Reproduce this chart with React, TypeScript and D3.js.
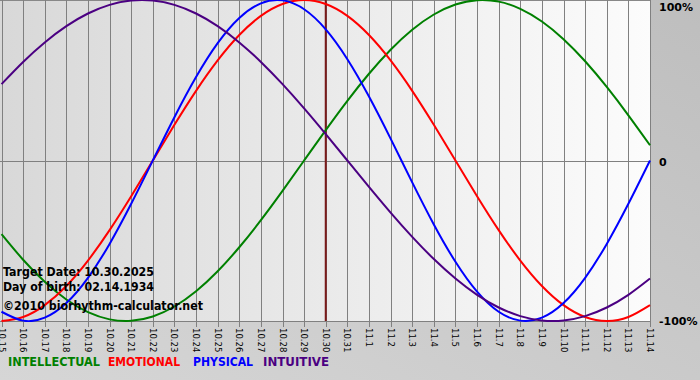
import React from 'react';
import * as d3 from 'd3';

const dates = [
  "10.15","10.16","10.17","10.18","10.19","10.20","10.21","10.22","10.23","10.24",
  "10.25","10.26","10.27","10.28","10.29","10.30","10.31","11.1","11.2","11.3",
  "11.4","11.5","11.6","11.7","11.8","11.9","11.10","11.11","11.12","11.13","11.14"
];

const intellectual = [
  -0.4582,-0.6182,-0.7557,-0.8660,-0.9450,-0.9898,-0.9989,-0.9718,-0.9096,-0.8146,
  -0.6901,-0.5406,-0.3717,-0.1893,0.0000,0.1893,0.3717,0.5406,0.6901,0.8146,
  0.9096,0.9718,0.9989,0.9898,0.9450,0.8660,0.7557,0.6182,0.4582,0.2817,0.0951
];
const emotional = [
  -1.0000,-0.9749,-0.9010,-0.7818,-0.6235,-0.4339,-0.2225,0.0000,0.2225,0.4339,
  0.6235,0.7818,0.9010,0.9749,1.0000,0.9749,0.9010,0.7818,0.6235,0.4339,
  0.2225,0.0000,-0.2225,-0.4339,-0.6235,-0.7818,-0.9010,-0.9749,-1.0000,-0.9749,-0.9010
];
const physical = [
  -0.9423,-0.9977,-0.9791,-0.8879,-0.7308,-0.5196,-0.2698,0.0000,0.2698,0.5196,
  0.7308,0.8879,0.9791,0.9977,0.9423,0.8170,0.6311,0.3984,0.1362,-0.1362,
  -0.3984,-0.6311,-0.8170,-0.9423,-0.9977,-0.9791,-0.8879,-0.7308,-0.5196,-0.2698,0.0000
];
const intuitive = [
  0.4759,0.6142,0.7357,0.8372,0.9158,0.9694,0.9966,0.9966,0.9694,0.9158,
  0.8372,0.7357,0.6142,0.4759,0.3247,0.1646,0.0000,-0.1646,-0.3247,-0.4759,
  -0.6142,-0.7357,-0.8372,-0.9158,-0.9694,-0.9966,-0.9966,-0.9694,-0.9158,-0.8372,-0.7357
];

const seriesNames = ["INTELLECTUAL", "EMOTIONAL", "PHYSICAL", "INTUITIVE"];
const seriesColors = ["#008000", "#ff0000", "#0000ff", "#4b0082"];
const yTickValues = [1, 0, -1];
const yTickLabels = ["100%", "0", "-100%"];
const targetDate = "10.30";
const infoLines = ["Target Date: 10.30.2025", "Day of birth: 02.14.1934", "\u00A92010 biorhythm-calculator.net"];

const W = 700, H = 380;
const PL = 0, PR = 651, PT = 0, PB = 321;

export default function App() {
  const x = d3.scaleLinear().domain([0, dates.length - 1]).range([1.5, 650]);
  const y = d3.scaleLinear().domain([-1, 1]).range([321, 0]);
  const series = [intellectual, emotional, physical, intuitive];
  const line = d3.line<number>()
    .x((_, i) => x(i))
    .y(d => y(d))
    .curve(d3.curveNatural);
  const ti = dates.indexOf(targetDate);
  const font = '"DejaVu Sans", Verdana, sans-serif';
  const legendX = [8, 108, 193, 263];
  const legendW = [92, 72, 60, 66];
  const infoY = [276, 291, 310];
  const infoW = [151, 151, 200];

  return (
    <svg width={W} height={H} style={{ position: 'absolute', left: 0, top: 0, display: 'block' }}>
      <defs>
        <linearGradient id="outer" x1="0" y1="1" x2="1" y2="0">
          <stop offset="0" stopColor="#d6d6d6" />
          <stop offset="1" stopColor="#bebebe" />
        </linearGradient>
        <linearGradient id="plotbg" x1="0" y1="0" x2="1" y2="0">
          <stop offset="0" stopColor="#d8d8d8" />
          <stop offset="1" stopColor="#fcfcfc" />
        </linearGradient>
        <clipPath id="clip">
          <rect x={PL} y={PT} width={PR - PL} height={PB - PT + 1} />
        </clipPath>
      </defs>
      <rect x={0} y={0} width={W} height={H} fill="url(#outer)" />
      <rect x={PL} y={PT} width={PR - PL} height={PB - PT} fill="url(#plotbg)" />
      <line x1={PL} x2={PR} y1={0.5} y2={0.5} stroke="#888" strokeWidth={1} />
      {dates.map((d, i) => (
        <line key={'g' + d} x1={Math.round(x(i)) + 0.5} x2={Math.round(x(i)) + 0.5} y1={0} y2={327} stroke="#808080" strokeWidth={1} />
      ))}
      <line x1={PL} x2={PR} y1={Math.round(y(0)) + 0.5} y2={Math.round(y(0)) + 0.5} stroke="#808080" strokeWidth={1} />
      <line x1={PL} x2={PR} y1={PB + 0.5} y2={PB + 0.5} stroke="#808080" strokeWidth={1} />
      <line x1={x(ti)} x2={x(ti)} y1={0} y2={PB} stroke="#7a1a1a" strokeWidth={2} />
      <g clipPath="url(#clip)">
        {series.map((s, k) => (
          <path key={seriesNames[k]} d={line(s) || ''} fill="none" stroke={seriesColors[k]} strokeWidth={2} />
        ))}
      </g>
      {dates.map((d, i) => (
        <text key={'t' + d} transform={`translate(${x(i)},328) rotate(90)`} dy="0.35em"
          fontFamily={font} fontSize={8.5} fill="#000">{d}</text>
      ))}
      {yTickValues.map((v, k) => (
        <text key={'y' + k} x={659} y={y(v) + [11, 5, 4][k]} fontFamily={font} fontWeight="bold" fontSize={11} fill="#000">{yTickLabels[k]}</text>
      ))}
      {infoLines.map((t, k) => (
        <text key={'i' + k} x={3} y={infoY[k]} fontFamily={font} fontWeight="bold" fontSize={11.5}
          textLength={infoW[k]} lengthAdjust="spacingAndGlyphs" fill="#000">{t}</text>
      ))}
      {seriesNames.map((n, k) => (
        <text key={'l' + n} x={legendX[k]} y={366} fontFamily={font} fontWeight="bold" fontSize={11.5}
          textLength={legendW[k]} lengthAdjust="spacingAndGlyphs" fill={seriesColors[k]}>{n}</text>
      ))}
    </svg>
  );
}
